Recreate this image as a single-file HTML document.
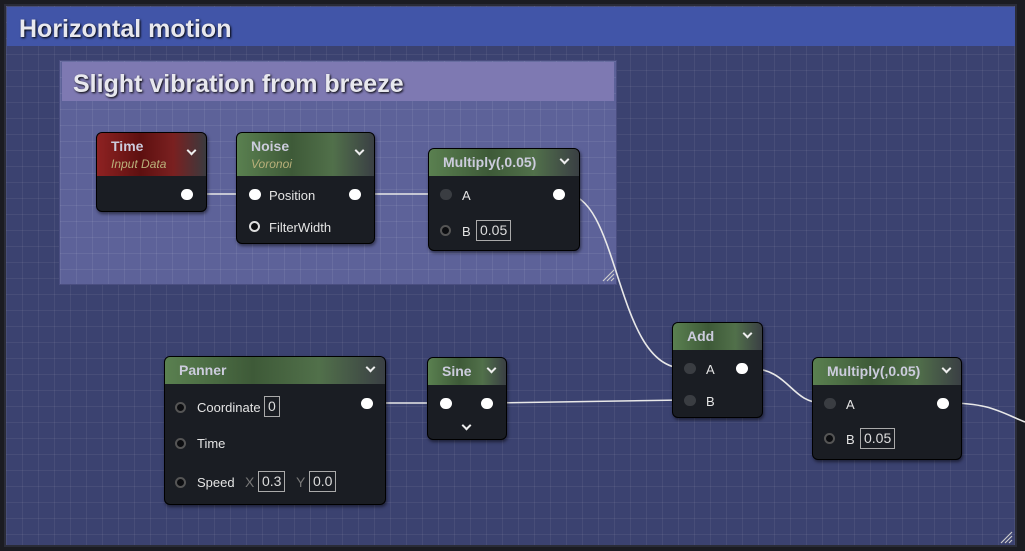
<!DOCTYPE html>
<html><head><meta charset="utf-8"><style>
*{box-sizing:border-box;margin:0;padding:0}
body{width:1025px;height:551px;overflow:hidden;background:#1b1c22;font-family:"Liberation Sans",sans-serif;position:relative}
.grid{background-color:#3b4270;background-image:linear-gradient(rgba(255,255,255,0.06) 1px,transparent 1px),linear-gradient(90deg,rgba(255,255,255,0.06) 1px,transparent 1px);background-size:16px 16px}
#outer{position:absolute;left:4px;top:4px;width:1013px;height:543px;border:2px solid #2a2c38}
#otitle{position:absolute;left:7px;top:7px;width:1008px;height:39px;background:#4155a8;color:#e8e8ee;font-weight:bold;font-size:25px;padding:8px 12px 0;text-shadow:1px 1px 2px #000}
#inner{position:absolute;left:59px;top:60px;width:558px;height:225px;background-color:#5d6299;background-image:linear-gradient(rgba(255,255,255,0.07) 1px,transparent 1px),linear-gradient(90deg,rgba(255,255,255,0.07) 1px,transparent 1px);background-size:16px 16px;border:1px solid #4a4e80}
#ititle{position:absolute;left:62px;top:62px;width:552px;height:39px;background:#7e79b2;color:#e8e8ee;font-weight:bold;font-size:25px;padding:8px 11px 0;text-shadow:1px 1px 2px #000}
.node{position:absolute;background:#1a1d23;border:1px solid #000;border-radius:6px;box-shadow:1px 2px 3px rgba(0,0,0,.5);color:#ddd;font-size:13px;overflow:hidden}
.hd{height:27px;background:linear-gradient(90deg,#5a8050 0%,#3e5a38 40%,#51704a 70%,#3a3f44 100%);color:#ccd;font-weight:bold;font-size:14px;padding:5px 0 0 14px;position:relative}
.hd.red{background:linear-gradient(90deg,#8e2222 0%,#5e1010 40%,#7a2020 70%,#3a3a3e 100%);height:43px}
.hd.tall{height:43px}
.sub{font-style:italic;font-weight:normal;font-size:12px;color:#b9b07a;margin-top:3px}
.chev{position:absolute;right:11px;top:7px;width:7px;height:7px;border-right:2px solid #eee;border-bottom:2px solid #eee;transform:rotate(45deg)}
.p{position:absolute;width:12px;height:11px;border-radius:6px;background:#fff}
.pd{position:absolute;width:12px;height:11px;border-radius:6px;background:#3a3d42}
.po{position:absolute;width:11px;height:11px;border-radius:6px;border:2px solid #555;background:#0c0d10}
.t{position:absolute;color:#e4e4e4;font-size:13px}
.box{position:absolute;border:1px solid #aaa;color:#ddd;font-size:14px;padding:1px 3px;height:21px}
svg{position:absolute;left:0;top:0}
</style></head><body>
<div id="outer" class="grid"></div>
<div id="otitle">Horizontal motion</div>
<div id="inner"></div>
<div id="ititle">Slight vibration from breeze</div>
<svg width="1025" height="551"><g fill="none" stroke="#e8e8e8" stroke-width="1.6">
<path d="M193 194 L250 194"/>
<path d="M360 194 L440 194"/>
<path d="M565 194 C620 194,615 368,683 368"/>
<path d="M371 403 L440 403"/>
<path d="M492 403 L683 400"/>
<path d="M747 368 C790 368,790 403,823 403"/>
<path d="M947 403 C990 403,1000 412,1025 422"/>
</g>
<g stroke="#ccc" stroke-width="1.2"><path d="M603 281 L614 270 M607 281 L614 274 M611 281 L614 278"/><path d="M1001 543 L1012 532 M1005 543 L1012 536 M1009 543 L1012 540"/></g></svg>

<div class="node" style="left:96px;top:132px;width:111px;height:80px"><div class="hd red">Time<div class="sub">Input Data</div><span class="chev" style="top:14px"></span></div>
<div class="p" style="left:84px;top:56px"></div></div>

<div class="node" style="left:236px;top:132px;width:139px;height:112px"><div class="hd tall">Noise<div class="sub">Voronoi</div><span class="chev" style="top:14px"></span></div>
<div class="p" style="left:12px;top:56px"></div><div class="t" style="left:32px;top:55px">Position</div><div class="p" style="left:112px;top:56px"></div>
<div class="po" style="left:12px;top:88px;border-color:#ddd"></div><div class="t" style="left:32px;top:87px">FilterWidth</div></div>

<div class="node" style="left:428px;top:148px;width:152px;height:103px"><div class="hd">Multiply(,0.05)<span class="chev"></span></div>
<div class="pd" style="left:11px;top:40px"></div><div class="t" style="left:33px;top:39px">A</div><div class="p" style="left:124px;top:40px"></div>
<div class="po" style="left:11px;top:76px"></div><div class="t" style="left:33px;top:75px">B</div><div class="box" style="left:47px;top:71px">0.05</div></div>

<div class="node" style="left:164px;top:356px;width:222px;height:149px"><div class="hd">Panner<span class="chev"></span></div>
<div class="po" style="left:10px;top:45px"></div><div class="t" style="left:32px;top:43px">Coordinate</div><div class="box" style="left:99px;top:39px">0</div><div class="p" style="left:196px;top:41px"></div>
<div class="po" style="left:10px;top:81px"></div><div class="t" style="left:32px;top:79px">Time</div>
<div class="po" style="left:10px;top:120px"></div><div class="t" style="left:32px;top:118px">Speed</div><div class="t" style="left:80px;top:117px;color:#777;font-size:14px">X</div><div class="box" style="left:93px;top:114px">0.3</div><div class="t" style="left:131px;top:117px;color:#777;font-size:14px">Y</div><div class="box" style="left:144px;top:114px">0.0</div></div>

<div class="node" style="left:427px;top:357px;width:80px;height:83px"><div class="hd">Sine<span class="chev"></span></div>
<div class="p" style="left:12px;top:40px"></div><div class="p" style="left:53px;top:40px"></div><span class="chev" style="left:35px;top:64px;right:auto"></span></div>

<div class="node" style="left:672px;top:322px;width:91px;height:96px"><div class="hd">Add<span class="chev"></span></div>
<div class="pd" style="left:11px;top:40px"></div><div class="t" style="left:33px;top:39px">A</div><div class="p" style="left:63px;top:40px"></div>
<div class="pd" style="left:11px;top:72px"></div><div class="t" style="left:33px;top:71px">B</div></div>

<div class="node" style="left:812px;top:357px;width:150px;height:103px"><div class="hd">Multiply(,0.05)<span class="chev"></span></div>
<div class="pd" style="left:11px;top:40px"></div><div class="t" style="left:33px;top:39px">A</div><div class="p" style="left:124px;top:40px"></div>
<div class="po" style="left:11px;top:75px"></div><div class="t" style="left:33px;top:74px">B</div><div class="box" style="left:47px;top:70px">0.05</div></div>
</body></html>
